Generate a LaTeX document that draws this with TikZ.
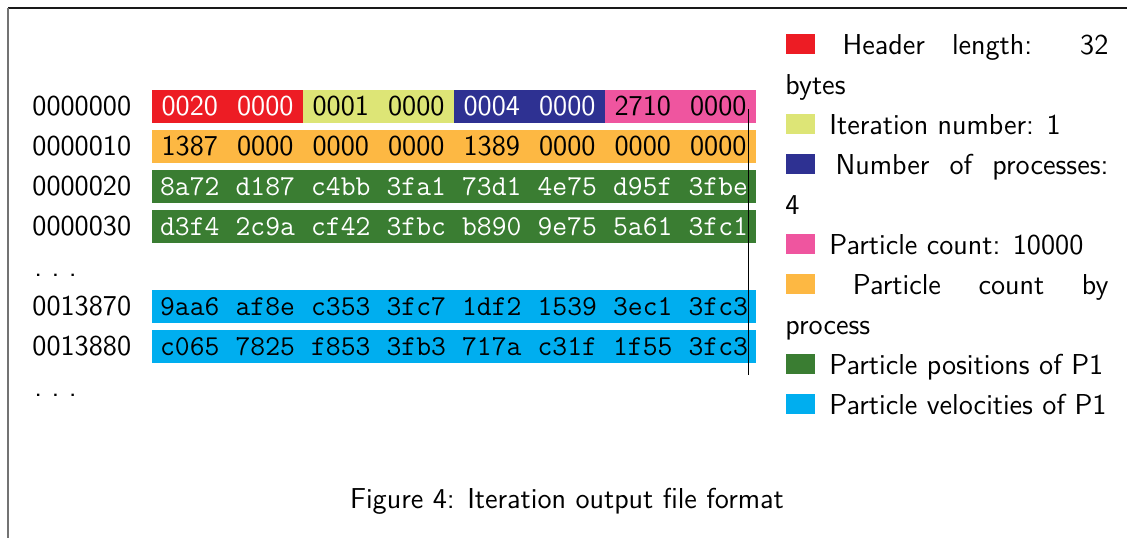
\documentclass[tikz,border=0pt]{standalone}
\usepackage{xcolor}
\definecolor{hdrred}{HTML}{ED1C24}
\definecolor{iteryel}{HTML}{DDE576}
\definecolor{procblue}{HTML}{2E3192}
\definecolor{pcpink}{HTML}{EF559F}
\definecolor{pcorange}{HTML}{FDB843}
\definecolor{posgreen}{HTML}{3A7D32}
\definecolor{velcyan}{HTML}{00AEEF}
\begin{document}
\begin{tikzpicture}[x=0.5pt, y=0.5pt, font=\Large\sffamily,
    hexsf/.style={inner sep=0pt, anchor=center},
    hextt/.style={inner sep=0pt, anchor=center, font=\Large\ttfamily},
    addr/.style={inner sep=0pt, anchor=west},
    legtxt/.style={inner sep=0pt, anchor=base west}]
	\useasboundingbox (0,0) rectangle (1127,538);
	% cadre de la capture
	\draw[black!90, line width=0.6pt] (8,530) -- (1127,530);
	\draw[black!55, line width=1pt] (8,530) -- (8,0);

	% blocs colores des lignes
	\fill[hdrred] (152,415) rectangle (303,448);
	\fill[iteryel] (303,415) rectangle (454,448);
	\fill[procblue] (454,415) rectangle (605,448);
	\fill[pcpink] (605,415) rectangle (756,448);
	\fill[pcorange] (152,375) rectangle (756,408);
	\fill[posgreen] (152,335) rectangle (756,368);
	\fill[posgreen] (152,295) rectangle (756,328);
	\fill[velcyan] (152,215) rectangle (756,248);
	\fill[velcyan] (152,175) rectangle (756,208);

	% adresses
	\node[addr] (a0) at (32,431.5) {0000000};
	\node[addr] (a1) at (32,391.5) {0000010};
	\node[addr] (a2) at (32,351.5) {0000020};
	\node[addr] (a3) at (32,311.5) {0000030};
	\node[legtxt] (d1) at (34,262) {.\ .\ .};
	\node[addr] (a4) at (32,231.5) {0013870};
	\node[addr] (a5) at (32,191.5) {0013880};
	\node[legtxt] (d2) at (34,142) {.\ .\ .};

	% en-tete
	\node[hexsf, white] (r0c0) at (189.75,431.5) {0020};
	\node[hexsf, white] (r0c1) at (265.25,431.5) {0000};
	\node[hexsf] (r0c2) at (340.75,431.5) {0001};
	\node[hexsf] (r0c3) at (416.25,431.5) {0000};
	\node[hexsf, white] (r0c4) at (491.75,431.5) {0004};
	\node[hexsf, white] (r0c5) at (567.25,431.5) {0000};
	\node[hexsf] (r0c6) at (642.75,431.5) {2710};
	\node[hexsf] (r0c7) at (718.25,431.5) {0000};
	\foreach \w [count=\i from 0] in {1387,0000,0000,0000,1389,0000,0000,0000}
		\node[hexsf] (r1c\i) at (189.75+75.5*\i,391.5) {\w};

	% positions et vitesses de P1
	\foreach \w [count=\i from 0] in {8a72,d187,c4bb,3fa1,73d1,4e75,d95f,3fbe}
		\node[hextt, white] (r2c\i) at (189.75+75.5*\i,351.5) {\w};
	\foreach \w [count=\i from 0] in {d3f4,2c9a,cf42,3fbc,b890,9e75,5a61,3fc1}
		\node[hextt, white] (r3c\i) at (189.75+75.5*\i,311.5) {\w};
	\foreach \w [count=\i from 0] in {9aa6,af8e,c353,3fc7,1df2,1539,3ec1,3fc3}
		\node[hextt] (r4c\i) at (189.75+75.5*\i,231.5) {\w};
	\foreach \w [count=\i from 0] in {c065,7825,f853,3fb3,717a,c31f,1f55,3fc3}
		\node[hextt] (r5c\i) at (189.75+75.5*\i,191.5) {\w};

	% trait vertical
	\coordinate (mtop) at (748.5,429);
	\coordinate (mbot) at (748.5,163);
	\draw[line width=0.5pt] (mtop) -- (mbot);

	% legende
	\fill[hdrred] (786,484) rectangle (815,504);
	\node[legtxt] (l1) at (815,484) {\makebox[146.5pt][s]{\ Header length: 32}};
	\node[legtxt] (l1b) at (785,444) {bytes};
	\fill[iteryel] (786,404) rectangle (815,424);
	\node[legtxt] (l2) at (829,404) {Iteration number: 1};
	\fill[procblue] (786,364) rectangle (815,384);
	\node[legtxt] (l3) at (815,364) {\makebox[146.5pt][s]{\ Number of processes:}};
	\node[legtxt] (l3b) at (785,324) {4};
	\fill[pcpink] (786,284) rectangle (815,304);
	\node[legtxt] (l4) at (829,284) {Particle count: 10000};
	\fill[pcorange] (786,244) rectangle (815,264);
	\node[legtxt] (l5) at (815,244) {\makebox[146.5pt][s]{\ Particle count by}};
	\node[legtxt] (l5b) at (785,204) {process};
	\fill[posgreen] (786,164) rectangle (815,184);
	\node[legtxt] (l6) at (829,164) {Particle positions of P1};
	\fill[velcyan] (786,124) rectangle (815,144);
	\node[legtxt] (l7) at (829,124) {Particle velocities of P1};

	% legende de la figure
	\node[inner sep=0pt, anchor=base] (cap) at (567,30) {Figure 4: Iteration output file format};
\end{tikzpicture}
\end{document}
